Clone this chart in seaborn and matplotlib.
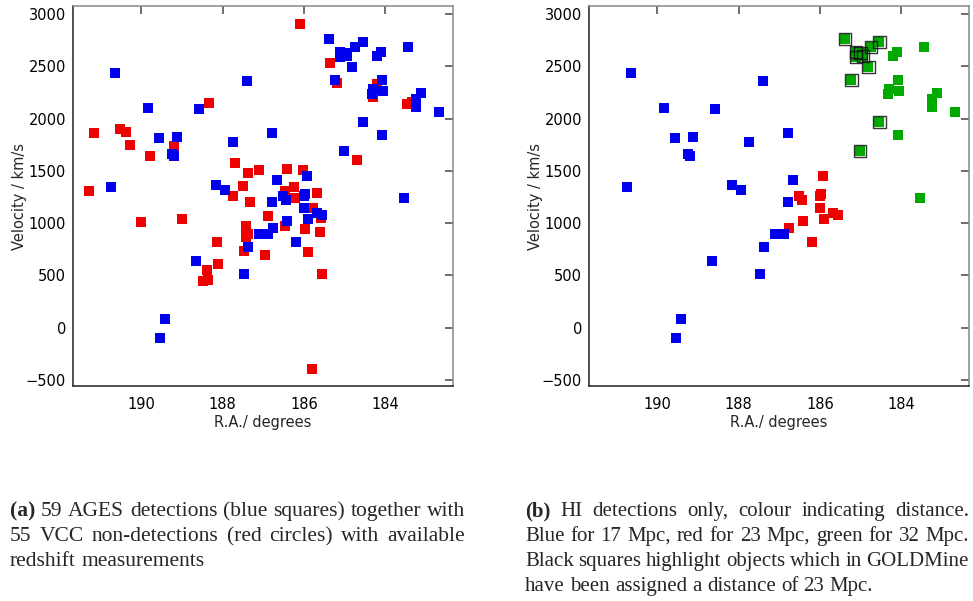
import matplotlib
matplotlib.use('Agg')
import matplotlib.pyplot as plt
import seaborn as sns
import pandas as pd

# AGES HI detections: R.A. (deg), velocity (km/s), assigned distance (Mpc),
# and whether GOLDMine gives them 23 Mpc
ages_ra = [190.65, 189.84, 188.58, 189.56, 189.12, 189.24, 189.20, 187.74, 190.75, 188.16,
           187.94, 188.65, 189.42, 189.54, 187.47, 185.38, 184.54, 184.74, 185.11, 184.99,
           184.94, 185.11, 184.10, 184.20, 183.43, 184.81, 187.40, 185.23, 184.07, 184.30,
           184.05, 184.32, 183.11, 183.24, 183.24, 182.67, 184.54, 184.07, 186.78, 185.01,
           183.53, 185.92, 186.66, 186.51, 186.44, 185.99, 185.97, 186.78, 185.99, 185.67,
           185.55, 186.41, 185.90, 186.76, 187.10, 186.88, 186.19, 187.37]
ages_vel = [2435, 2100, 2091, 1814, 1824, 1661, 1642, 1776, 1346, 1365,
            1317, 638, 83, -98, 514, 2761, 2732, 2684, 2637, 2627,
            2598, 2589, 2637, 2598, 2684, 2493, 2359, 2369, 2369, 2283,
            2264, 2235, 2244, 2187, 2111, 2063, 1967, 1843, 1862, 1690,
            1240, 1451, 1412, 1259, 1221, 1259, 1279, 1202, 1145, 1097,
            1078, 1020, 1040, 953, 896, 896, 820, 772]
ages_dist = [17, 17, 17, 17, 17, 17, 17, 17, 17, 17,
             17, 17, 17, 17, 17, 32, 32, 32, 32, 32,
             32, 32, 32, 32, 32, 32, 17, 32, 32, 32,
             32, 32, 32, 32, 32, 32, 32, 32, 17, 32,
             32, 23, 17, 23, 23, 23, 23, 17, 23, 23,
             23, 23, 23, 23, 17, 17, 23, 17]
ages_gold23 = [0, 0, 0, 0, 0, 0, 0, 0, 0, 0,
               0, 0, 0, 0, 0, 1, 1, 1, 1, 1,
               1, 1, 0, 0, 0, 1, 0, 1, 0, 0,
               0, 0, 0, 0, 0, 0, 1, 0, 0, 1,
               0, 0, 0, 0, 0, 0, 0, 0, 0, 0,
               0, 0, 0, 0, 0, 0, 0, 0]

# VCC non-detections with redshifts
vcc_ra = [188.33, 191.16, 190.52, 190.38, 190.28, 189.20, 189.79, 187.69, 191.29, 187.74,
          187.50, 190.01, 189.00, 188.14, 188.38, 188.48, 188.35, 188.11, 186.09, 185.35,
          185.18, 184.20, 184.30, 183.46, 183.34, 184.69, 187.37, 187.10, 186.41, 186.02,
          187.32, 186.24, 186.46, 186.22, 185.67, 185.77, 185.58, 186.88, 186.46, 187.42,
          187.42, 187.37, 187.42, 185.97, 185.60, 187.47, 186.96, 185.90, 185.55, 185.80]
vcc_vel = [2149, 1862, 1900, 1871, 1747, 1738, 1642, 1575, 1307, 1259,
           1355, 1011, 1040, 820, 552, 446, 456, 609, 2904, 2531,
           2340, 2331, 2206, 2139, 2158, 1604, 1479, 1508, 1518, 1508,
           1202, 1346, 1307, 1240, 1288, 1145, 1049, 1068, 973, 973,
           915, 896, 867, 944, 915, 733, 695, 724, 514, -395]

x_ticks = [190, 188, 186, 184]
y_ticks = [-500, 0, 500, 1000, 1500, 2000, 2500, 3000]

dist_colors = {17: '#0000ee', 23: '#ee0000', 32: '#00aa00'}

ages = pd.DataFrame({'ra': ages_ra, 'vel': ages_vel, 'dist': ages_dist, 'gold': ages_gold23})
vcc = pd.DataFrame({'ra': vcc_ra, 'vel': vcc_vel})

sns.set_style('white')
W, H = 973, 601
fig = plt.figure(figsize=(W / 100, H / 100), dpi=100)
ax1 = fig.add_axes([73 / W, 1 - 386 / H, 380 / W, 380 / H])
ax2 = fig.add_axes([589 / W, 1 - 386 / H, 380 / W, 380 / H])

sq = 52
sns.scatterplot(data=vcc, x='ra', y='vel', ax=ax1, marker='s', s=sq, color='#ee0000', linewidth=0)
sns.scatterplot(data=ages, x='ra', y='vel', ax=ax1, marker='s', s=sq, color='#0000ee', linewidth=0)

sns.scatterplot(data=ages, x='ra', y='vel', hue='dist', palette=dist_colors, ax=ax2,
                marker='s', s=sq, linewidth=0, legend=False)
gold = ages[ages['gold'] == 1]
sns.scatterplot(data=gold, x='ra', y='vel', ax=ax2, marker='s', s=85,
                facecolor='none', edgecolor='#111111', linewidth=1.0, alpha=0.85)

for ax in (ax1, ax2):
    ax.set_xlim(191.68, 182.33)
    ax.set_ylim(-557, 3076)
    ax.set_xticks(x_ticks)
    ax.set_yticks(y_ticks)
    ax.set_yticklabels(['\u2212500' if v < 0 else str(v) for v in y_ticks])
    ax.tick_params(axis='both', direction='in', top=True, right=True, length=6, width=1.1,
                   color='#444444', labelcolor='black', labelsize=10.5)
    ax.tick_params(axis='x', pad=8)
    ax.tick_params(axis='y', pad=5)
    for side in ('left', 'bottom'):
        ax.spines[side].set_color('#222222')
    for side in ('top', 'right'):
        ax.spines[side].set_color('#888888')
    for sp in ax.spines.values():
        sp.set_linewidth(1.1)
    ax.set_xlabel('R.A./ degrees', fontsize=10.5)
    ax.set_ylabel('Velocity / km/s', fontsize=10.5)
    ax.xaxis.set_label_coords(0.5, -0.075)
    ax.yaxis.set_label_coords(-0.12, 0.5)

# justified captions under each panel
renderer = fig.canvas.get_renderer()


def caption(lines, x0, x1, y0, dy, size):
    font = dict(fontsize=size, family='Liberation Serif', va='baseline')
    probe = fig.text(0, 0, 'x x', **font)
    probe2 = fig.text(0, 0, 'xx', **font)
    space = probe.get_window_extent(renderer).width - probe2.get_window_extent(renderer).width
    probe.remove()
    probe2.remove()
    for i, line in enumerate(lines):
        y = 1 - (y0 + i * dy) / H
        words = line.split()
        texts = []
        for j, w in enumerate(words):
            weight = 'bold' if (j == 0 and i == 0) else 'normal'
            texts.append(fig.text(0, y, w, fontweight=weight, **font))
        widths = [t.get_window_extent(renderer).width for t in texts]
        if i < len(lines) - 1:
            gap = (x1 - x0 - sum(widths)) / (len(words) - 1)
        else:
            gap = space
        x = x0
        for t, w in zip(texts, widths):
            t.set_x(x / W)
            x += w + gap


caption(['(a) 59 AGES detections (blue squares) together with',
         '55 VCC non-detections (red circles) with available',
         'redshift measurements'], 10, 465, 516, 25, 15.5)
caption(['(b) HI detections only, colour indicating distance.',
         'Blue for 17 Mpc, red for 23 Mpc, green for 32 Mpc.',
         'Black squares highlight objects which in GOLDMine',
         'have been assigned a distance of 23 Mpc.'], 525, 969, 516, 25, 15)

fig.savefig('out.png', dpi=100)
